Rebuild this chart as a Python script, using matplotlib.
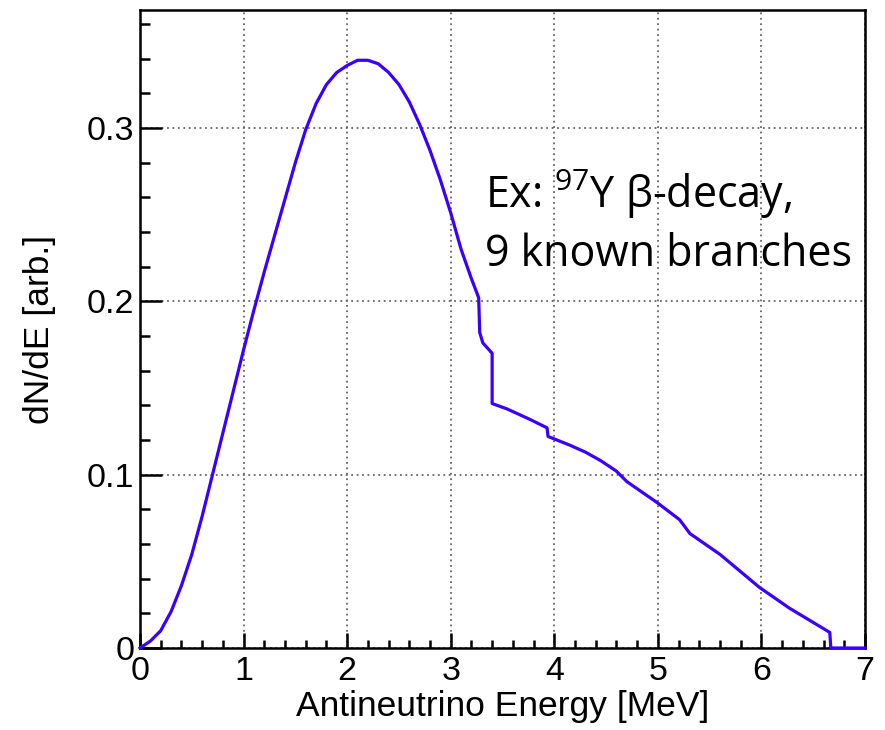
import matplotlib
matplotlib.use("Agg")
import matplotlib.pyplot as plt
from matplotlib.ticker import MultipleLocator, FuncFormatter

# Data
energy = [0.00, 0.10, 0.20, 0.30, 0.40, 0.50, 0.60, 0.70, 0.80, 0.90, 1.00, 1.10,
          1.20, 1.30, 1.40, 1.50, 1.60, 1.70, 1.80, 1.90, 2.00, 2.10, 2.20, 2.30,
          2.40, 2.50, 2.60, 2.70, 2.80, 2.90, 3.00, 3.10, 3.20, 3.27, 3.28, 3.31,
          3.40, 3.40, 3.54, 3.76, 3.93, 3.94, 4.15, 4.30, 4.45, 4.60, 4.70, 4.99,
          5.21, 5.31, 5.60, 5.98, 6.27, 6.66, 6.67, 7.00]
dnde = [0.000, 0.004, 0.010, 0.021, 0.036, 0.054, 0.076, 0.100, 0.124, 0.148, 0.172, 0.195,
        0.217, 0.238, 0.259, 0.280, 0.299, 0.314, 0.325, 0.332, 0.336, 0.339, 0.339, 0.337,
        0.332, 0.325, 0.315, 0.302, 0.287, 0.270, 0.251, 0.230, 0.213, 0.202, 0.182, 0.176,
        0.170, 0.141, 0.138, 0.132, 0.127, 0.122, 0.117, 0.113, 0.108, 0.102, 0.096, 0.084,
        0.074, 0.066, 0.054, 0.035, 0.023, 0.009, 0.000, 0.000]

x_label = "Antineutrino Energy [MeV]"
y_label = "dN/dE [arb.]"
note_line1 = r"Ex: $\mathregular{^{97}}$Y β-decay,"
note_line2 = "9 known branches"

plt.rcParams['font.family'] = ['Liberation Sans', 'DejaVu Sans']

fig = plt.figure(figsize=(8.85, 7.30), dpi=100)
ax = fig.add_axes([0.1582, 0.1123, 0.8192, 0.8740])

ax.plot(energy, dnde, color='#3a00ff', lw=2.3, solid_joinstyle='round',
        clip_on=False, zorder=5)

ax.set_xlim(0, 7)
ax.set_ylim(0, 0.368)

ax.xaxis.set_major_locator(MultipleLocator(1))
ax.xaxis.set_minor_locator(MultipleLocator(0.2))
ax.yaxis.set_major_locator(MultipleLocator(0.1))
ax.yaxis.set_minor_locator(MultipleLocator(0.02))
ax.yaxis.set_major_formatter(FuncFormatter(lambda v, p: f"{v:g}"))

ax.grid(True, which='major', color='#666666', linestyle=(0, (1, 2)), linewidth=1.3)
ax.set_axisbelow(True)

ax.tick_params(axis='both', which='both', direction='in', width=1.8, colors='black',
               labelsize=24.5)
ax.tick_params(axis='y', which='major', length=16, pad=4)
ax.tick_params(axis='y', which='minor', length=7)
ax.tick_params(axis='x', which='major', length=11, pad=6)
ax.tick_params(axis='x', which='minor', length=6)

for s in ax.spines.values():
    s.set_linewidth(1.8)
    s.set_color('black')

ax.set_xlabel(x_label, fontsize=25.5, va='top')
ax.xaxis.set_label_coords(0.5, -0.066)
ax.set_ylabel(y_label, fontsize=25.5, va='center')
ax.yaxis.set_label_coords(-0.138, 0.5)

ax.text(3.33, 0.254, note_line1, fontsize=31, family=['Open Sans', 'DejaVu Sans'],
        va='baseline', ha='left', zorder=6)
ax.text(3.33, 0.2205, note_line2, fontsize=31, family=['Open Sans', 'DejaVu Sans'],
        va='baseline', ha='left', zorder=6)

fig.savefig("out.png", dpi=100)
